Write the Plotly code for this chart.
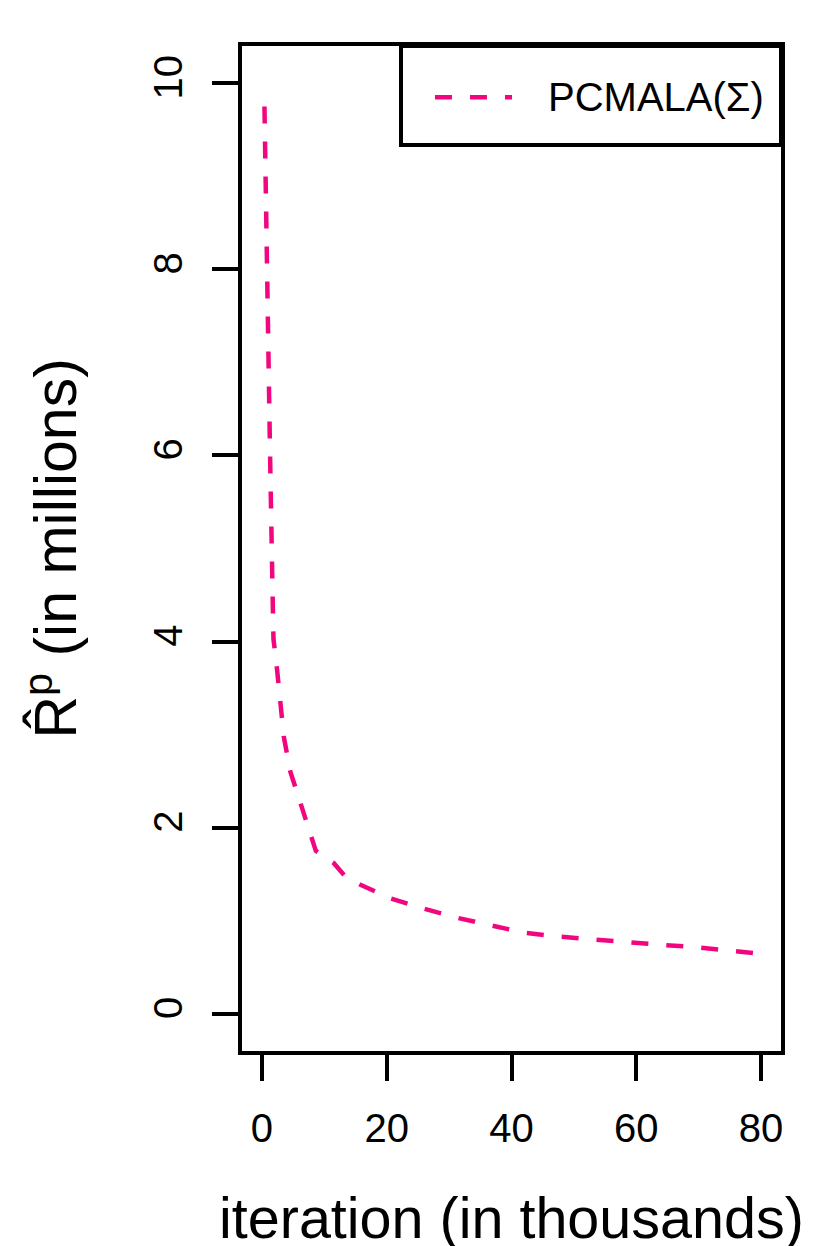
import plotly.graph_objects as go

# iteration (thousands) and R^p (millions)
iteration = [0.4, 0.64, 0.96, 1.28, 1.6, 1.84, 2.4, 2.96, 3.52, 4.56, 6.16, 7.84,
             8.64, 11.5, 13.3, 15.7, 20.6, 25.9, 29.3, 31.4, 36.7, 42.1, 47.5,
             53.1, 58.6, 64.1, 69.6, 75.0, 79.8]
r_hat = [9.75, 8.55, 7.37, 6.08, 4.89, 4.03, 3.71, 3.33, 2.97, 2.60, 2.26, 1.90,
         1.75, 1.62, 1.48, 1.39, 1.24, 1.13, 1.065, 1.03, 0.95, 0.87, 0.83,
         0.80, 0.76, 0.74, 0.715, 0.68, 0.645]

x_ticks = [0, 20, 40, 60, 80]
y_ticks = [0, 2, 4, 6, 8, 10]
series_name = "PCMALA(Σ)"

pink = "#F2067F"
font = "Liberation Sans"

fig = go.Figure()
fig.add_trace(go.Scatter(
    x=iteration, y=r_hat, mode="lines",
    line=dict(color=pink, width=4.5, dash="17px,18px"),
    showlegend=False, hoverinfo="skip",
))

# page body has an 8px margin, so the figure is 8px smaller each way
fig.update_layout(
    width=822, height=1238,
    margin=dict(l=234, r=49, t=38, b=195),
    plot_bgcolor="white", paper_bgcolor="white",
    font=dict(family=font, color="black", size=36),
    showlegend=False,
)
fig.update_xaxes(
    range=[-3.2, 83.2], tickvals=x_ticks, ticks="outside", ticklen=26, tickwidth=3.5,
    tickcolor="black", showline=True, linewidth=4, linecolor="black", mirror=True,
    showgrid=False, zeroline=False, tickfont=dict(size=40), ticklabelstandoff=13,
)
fig.update_yaxes(
    range=[-0.4, 10.4], tickvals=y_ticks, ticks="outside", ticklen=26, tickwidth=3.5,
    tickcolor="black", showline=True, linewidth=4, linecolor="black", mirror=True,
    showgrid=False, zeroline=False, tickangle=-90, tickfont=dict(size=40),
    ticklabelstandoff=14,
)

# axis titles
fig.add_annotation(
    text="iteration (in thousands)", xref="paper", yref="paper", x=0.5, y=0,
    xanchor="center", yanchor="middle", yshift=-167, showarrow=False,
    font=dict(size=57.5),
)
fig.add_annotation(
    text="R\u0302<sup>p</sup> (in millions)", xref="paper", yref="paper", x=0, y=0.5,
    xanchor="center", yanchor="middle", xshift=-190, textangle=-90, showarrow=False,
    font=dict(size=59),
)

# legend box drawn R-style
fig.add_shape(type="rect", xref="paper", yref="paper", x0=0.295, x1=1.0, y0=0.9015, y1=1.0,
              line=dict(color="black", width=4), fillcolor="white", layer="above")
fig.add_shape(type="line", xref="paper", yref="paper", x0=0.358, x1=0.501, y0=0.949, y1=0.949,
              line=dict(color=pink, width=4.5, dash="17px,18px"), layer="above")
fig.add_annotation(
    text=series_name, xref="paper", yref="paper", x=0.564, y=0.949,
    xanchor="left", yanchor="middle", showarrow=False, font=dict(size=40),
)

fig.write_html("out.html")
